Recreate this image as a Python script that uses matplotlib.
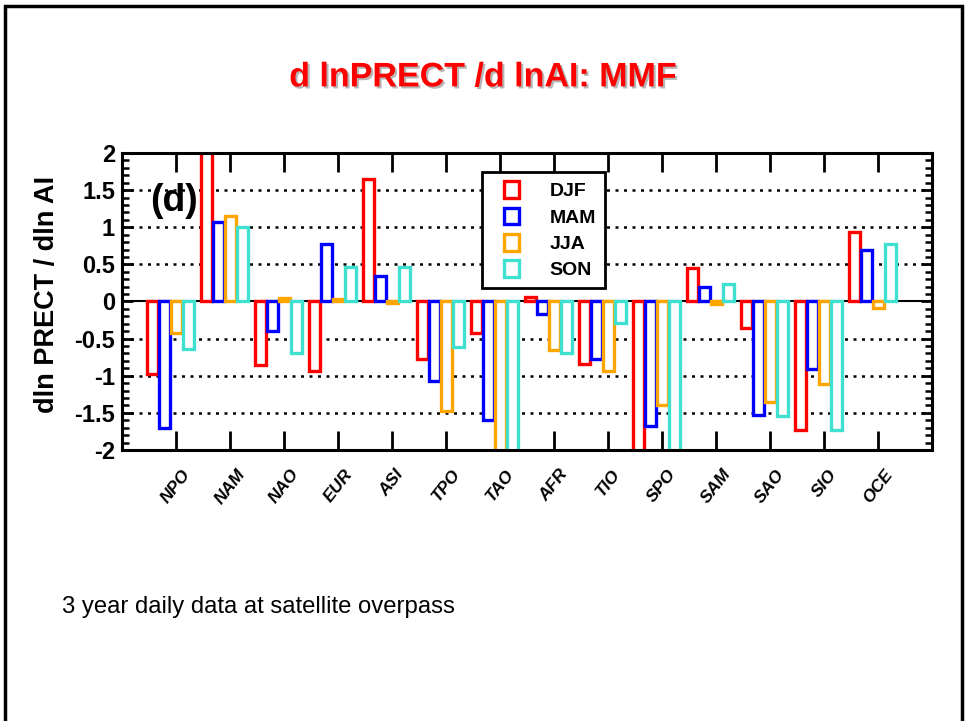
import matplotlib
matplotlib.use('Agg')
import matplotlib.pyplot as plt
import matplotlib.patheffects as pe
import matplotlib.transforms as mtransforms
from matplotlib.patches import Patch, Rectangle
from matplotlib.legend_handler import HandlerPatch
from matplotlib.ticker import MultipleLocator
import numpy as np

plt.rcParams['font.family'] = ['Liberation Sans', 'DejaVu Sans']

regions = ['NPO', 'NAM', 'NAO', 'EUR', 'ASI', 'TPO', 'TAO', 'AFR',
           'TIO', 'SPO', 'SAM', 'SAO', 'SIO', 'OCE']
seasons = ['DJF', 'MAM', 'JJA', 'SON']

djf = [-0.97, 2.2, -0.86, -0.93, 1.65, -0.77, -0.43, 0.06, -0.84, -2.2, 0.45, -0.36, -1.73, 0.93]
mam = [-1.70, 1.07, -0.40, 0.78, 0.34, -1.07, -1.60, -0.17, -0.77, -1.68, 0.20, -1.53, -0.91, 0.70]
jja = [-0.43, 1.15, 0.05, 0.04, -0.02, -1.47, -2.2, -0.66, -0.94, -1.39, -0.03, -1.36, -1.11, -0.09]
son = [-0.64, 1.00, -0.70, 0.46, 0.46, -0.61, -2.2, -0.70, -0.29, -2.2, 0.23, -1.54, -1.73, 0.78]

colors = ['#ff0000', '#0000ff', '#ffa500', '#40e0d0']
offsets = [-0.43, -0.21, 0.01, 0.23]
width = 0.21


def narrow_box(legend, orig_handle, xdescent, ydescent, width, height, fontsize):
    # small open box sitting at the right end of the handle area
    bw = 0.5 * width
    return Rectangle((-xdescent + width - bw, -ydescent), bw, height)


fig = plt.figure(figsize=(9.65, 7.21), dpi=100)
ax = fig.add_axes([0.1264, 0.3759, 0.8394, 0.4119])

x = np.arange(1, len(regions) + 1)

# dotted grid + solid zero line behind the bars
for yv in [-1.5, -1.0, -0.5, 0.5, 1.0, 1.5]:
    ax.axhline(yv, color='black', lw=1.8, ls=(0, (1.2, 2.2)), zorder=1)
ax.axhline(0, color='black', lw=1.5, zorder=1)

for vals, col, off in zip([djf, mam, jja, son], colors, offsets):
    ax.bar(x + off, vals, width=width, facecolor='white', edgecolor=col,
           linewidth=2.4, zorder=2)

ax.set_xlim(0, 15)
ax.set_ylim(-2, 2)
ax.set_xticks(x)
ax.set_xticklabels(regions, rotation=52, fontsize=12.5, fontweight='bold',
                   fontstyle='italic', ha='center', va='top')
shift = mtransforms.ScaledTranslation(-5 / 100, 0, fig.dpi_scale_trans)
for lab in ax.get_xticklabels():
    lab.set_transform(lab.get_transform() + shift)
ax.yaxis.set_minor_locator(MultipleLocator(0.1))
ax.set_yticks([-2, -1.5, -1, -0.5, 0, 0.5, 1, 1.5, 2])
ax.set_yticklabels(['-2', '-1.5', '-1', '-0.5', '0', '0.5', '1', '1.5', '2'],
                   fontsize=17, fontweight='bold')
ax.tick_params(axis='x', which='major', direction='in', top=True, bottom=True,
               length=14, width=2, pad=12)
ax.tick_params(axis='y', which='major', direction='in', left=True, right=True,
               length=8, width=2, pad=5)
ax.tick_params(axis='y', which='minor', direction='in', left=True, right=True,
               length=5, width=1.8)
for sp in ax.spines.values():
    sp.set_linewidth(2.2)
    sp.set_zorder(5)

ax.set_ylabel('dln PRECT / dln AI', fontsize=19.5, fontweight='bold')
ax.yaxis.set_label_coords(-0.076, 0.525)

ax.text(0.035, 0.84, '(d)', transform=ax.transAxes, fontsize=27,
        fontweight='bold', va='center', ha='left', zorder=4)

handles = [Patch(facecolor='white', edgecolor=c, linewidth=2.4) for c in colors]
leg = ax.legend(handles, seasons, loc='upper left', bbox_to_anchor=(0.444, 0.935),
                prop={'weight': 'bold', 'size': 14},
                frameon=True, fancybox=False, framealpha=1, edgecolor='black',
                handler_map={Patch: HandlerPatch(patch_func=narrow_box)},
                handlelength=1.45, handleheight=0.95, handletextpad=1.6,
                labelspacing=0.38, borderpad=0.45, borderaxespad=0)
leg.get_frame().set_linewidth(2)
leg.set_zorder(6)

fig.text(0.5, 0.892, 'd lnPRECT /d lnAI: MMF', ha='center', va='center',
         fontsize=24.5, fontweight='bold', color='#ff0000',
         path_effects=[pe.withSimplePatchShadow(offset=(1.5, -1.5),
                                                shadow_rgbFace='#999999', alpha=0.7)])

fig.text(0.064, 0.158, '3 year daily data at satellite overpass',
         fontsize=17.2, ha='left', va='center')

# page border
fig.add_artist(Rectangle((0.0047, -0.1), 0.9922, 1.0917, transform=fig.transFigure,
                         fill=False, edgecolor='black', linewidth=2.5))

fig.savefig('out.png', dpi=100)
